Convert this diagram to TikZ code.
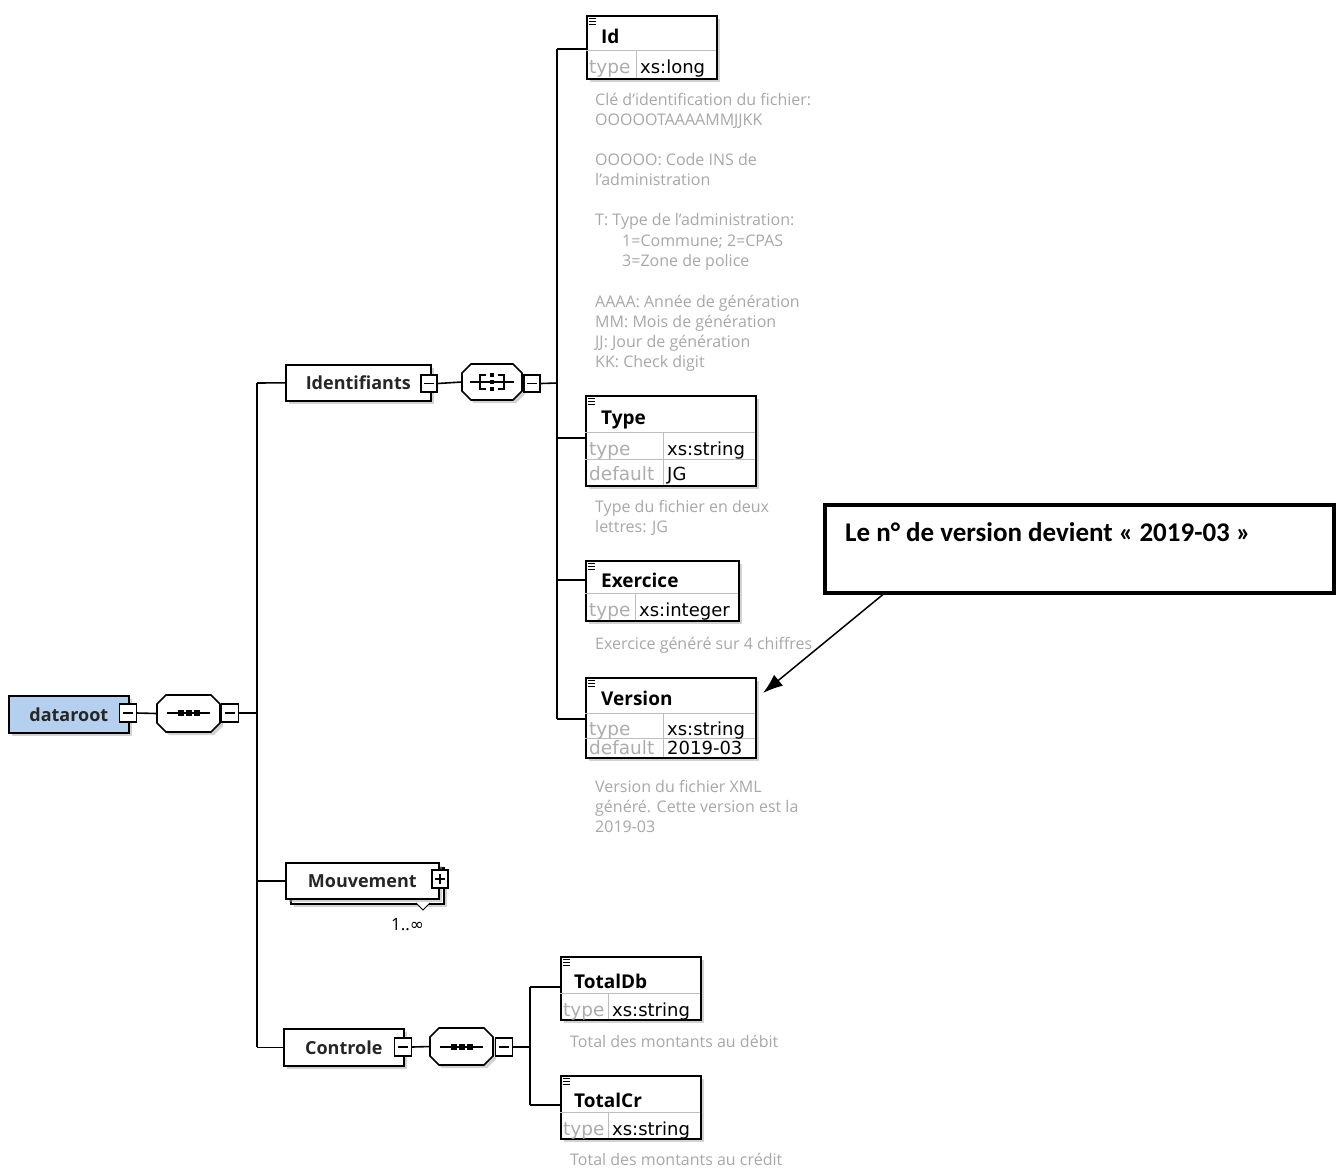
\documentclass[tikz,border=0pt]{standalone}
\usepackage{fontspec}
\setmainfont{Open Sans}
\newfontfamily\calloutfont{Carlito}
\newfontfamily\symfont{DejaVu Sans}
\usetikzlibrary{arrows.meta,shadows}

\definecolor{rootblue}{HTML}{B4D0EE}
\definecolor{attrgray}{HTML}{ADADAD}
\definecolor{descgray}{HTML}{A8A8A8}
\definecolor{gridgray}{HTML}{BDBDBD}

\newcommand{\xoct}[4]{(#1+9,#2) -- (#3-9,#2) -- (#3,#2+9) -- (#3,#4-9) -- (#3-9,#4) -- (#1+9,#4) -- (#1,#4-9) -- (#1,#2+9) -- cycle}

\tikzset{
  conn/.style={line width=1.6pt, draw=black},
  shd/.style={drop shadow={shadow xshift=3pt, shadow yshift=-3pt, fill=black!35, opacity=0.5}},
  topbox/.style={draw=black, line width=1.6pt, fill=white, shd, inner sep=0pt,
                 font=\fontsize{18}{20}\selectfont\bfseries, text=black!85},
  elem/.style={draw=black, line width=1.6pt, fill=white, shd, inner sep=0pt},
  expbox/.style={draw=black, line width=1.3pt, fill=white, inner sep=0pt,
                 minimum width=17pt, minimum height=18pt},
  octline/.style={draw=black, line width=1.6pt, fill=white},
  octshadow/.style={fill=black!35, opacity=0.5},
  anchorbox/.style={inner sep=0pt},
  grid/.style={draw=gridgray, line width=1pt},
  ename/.style={anchor=base west, inner sep=0pt, font=\fontsize{19}{21}\selectfont\bfseries},
  attr/.style={anchor=base west, inner sep=0pt, font=\symfont\fontsize{18.5}{20}\selectfont, text=attrgray},
  val/.style={anchor=base west, inner sep=0pt, font=\symfont\fontsize{18}{20}\selectfont, text=black},
  desc/.style={anchor=base west, inner sep=0pt, font=\fontsize{16}{18}\selectfont, text=descgray},
  icon/.style={draw=black, line width=0.8pt},
}

\begin{document}
\begin{tikzpicture}[x=1pt,y=-1pt]
\useasboundingbox (0,0) rectangle (1340,1171);
\fill[white] (0,0) rectangle (1340,1171);

% ---------------- spine coordinates
\coordinate (sp1top) at (257,383);
\coordinate (sp1mid) at (257,713);
\coordinate (sp1bot) at (257,1047);
\coordinate (sp2top) at (557,49);
\coordinate (sp2mid) at (557,383);
\coordinate (sp2bot) at (557,719);
\coordinate (sp3top) at (530,987);
\coordinate (sp3mid) at (530,1047);
\coordinate (sp3bot) at (530,1105);

% ---------------- spines
\draw[conn] (sp1top) -- (sp1bot);
\draw[conn] (sp2top) -- (sp2bot);
\draw[conn] (sp3top) -- (sp3bot);

% ---------------- dataroot
\node[topbox, fill=rootblue, minimum width=120pt, minimum height=37pt, anchor=north west]
  (dataroot) at (8,695) {dataroot\hspace{10pt}};
\node[expbox] (e1) at (128,713) {};
\draw[line width=1.2pt] ([xshift=-5pt]e1.center) -- ([xshift=5pt]e1.center);
\fill[octshadow, shift={(3,3)}] \xoct{157}{695}{220}{732};
\draw[octline] \xoct{157}{695}{220}{732};
\node[anchorbox, minimum width=63pt, minimum height=37pt] (seq1) at (188.5,713.5) {};
\draw[line width=1.2pt] (167,713) -- (210,713);
\fill (178,710) rectangle (184,716);
\fill (186,710) rectangle (192,716);
\fill (194,710) rectangle (200,716);
\node[expbox] (e2) at (230,713) {};
\draw[line width=1.2pt] ([xshift=-5pt]e2.center) -- ([xshift=5pt]e2.center);
\draw[conn] (e1.east) -- (seq1.west);
\draw[conn] (e2.east) -- (sp1mid);

% ---------------- Identifiants
\node[topbox, minimum width=145pt, minimum height=36pt, anchor=north west]
  (ident) at (285,364) {Identifiants\hspace{10pt}};
\draw[conn] (sp1top) -- (ident.west);
\node[expbox, minimum width=16pt, minimum height=17pt] (e3) at (429,383.5) {};
\draw[line width=1.2pt] ([xshift=-5pt]e3.center) -- ([xshift=5pt]e3.center);
\fill[octshadow, shift={(3,3)}] \xoct{462}{364}{522}{400};
\draw[octline] \xoct{462}{364}{522}{400};
\node[anchorbox, minimum width=60pt, minimum height=36pt] (all1) at (492,382) {};
\draw[line width=1.2pt] (470,382) -- (514,382);
\draw[line width=1.4pt] (486,375) -- (480,375) -- (480,389) -- (486,389);
\draw[line width=1.4pt] (498,375) -- (504,375) -- (504,389) -- (498,389);
\fill (490,373) rectangle (494,377);
\fill (490,380) rectangle (494,384);
\fill (490,387) rectangle (494,391);
\node[expbox, minimum width=16pt, minimum height=17pt] (e4) at (532,383.5) {};
\draw[line width=1.2pt] ([xshift=-5pt]e4.center) -- ([xshift=5pt]e4.center);
\draw[conn] (e3.east) -- (all1.west);
\draw[conn] (e4.east) -- (sp2mid);

% ---------------- Mouvement
\node[draw=black, line width=1.6pt, fill=white, shd, minimum width=153pt, minimum height=36pt,
      anchor=north west, inner sep=0pt] (mouvback) at (290,867) {};
\node[topbox, minimum width=153pt, minimum height=36pt, anchor=north west]
  (mouv) at (285,862) {Mouvement\hspace{12pt}};
\draw[conn] (mouv.west -| sp1top) -- (mouv.west);
\node[expbox, minimum width=16pt, minimum height=18pt] (e5) at (440,879) {};
\draw[line width=1.2pt] ([xshift=-5pt]e5.center) -- ([xshift=5pt]e5.center);
\draw[line width=1.2pt] ([yshift=-5pt]e5.center) -- ([yshift=5pt]e5.center);
\draw[line width=1pt, fill=white] (416,903) -- (423,910) -- (430,903);
\node[anchor=base west, inner sep=0pt, font=\fontsize{17}{19}\selectfont] (mult) at (391,930)
  {1..{\symfont ∞}};

% ---------------- Controle
\node[topbox, minimum width=120pt, minimum height=37pt, anchor=north west]
  (ctrl) at (283,1028) {Controle\hspace{8pt}};
\draw[conn] (ctrl.west -| sp1top) -- (ctrl.west);
\node[expbox] (e6) at (403,1047) {};
\draw[line width=1.2pt] ([xshift=-5pt]e6.center) -- ([xshift=5pt]e6.center);
\fill[octshadow, shift={(3,3)}] \xoct{430}{1028}{493}{1065};
\draw[octline] \xoct{430}{1028}{493}{1065};
\node[anchorbox, minimum width=63pt, minimum height=37pt] (seq2) at (461.5,1046.5) {};
\draw[line width=1.2pt] (440,1047) -- (483,1047);
\fill (451,1044) rectangle (457,1050);
\fill (459,1044) rectangle (465,1050);
\fill (467,1044) rectangle (473,1050);
\node[expbox] (e7) at (504,1047) {};
\draw[line width=1.2pt] ([xshift=-5pt]e7.center) -- ([xshift=5pt]e7.center);
\draw[conn] (e6.east) -- (seq2.west);
\draw[conn] (e7.east) -- (sp3mid);

% ---------------- Id
\node[elem, minimum width=130pt, minimum height=63pt, anchor=north west] (id) at (586,15) {};
\draw[conn] (sp2top) -- (id.west |- sp2top);
\draw[grid] (586,50) -- (716,50);
\draw[grid] (636,50) -- (636,78);
\draw[icon] (589,18) -- (596,18) (589,21) -- (596,21) (589,24) -- (596,24);
\node[ename] at (601,43) {Id};
\node[attr] at (589,73) {type};
\node[val] at (640,73) {xs:long};
\node[desc] at (595,105) {Clé d'identification du fichier:};
\node[desc] at (595,125) {OOOOOTAAAAMMJJKK};
\node[desc] at (595,165) {OOOOO: Code INS de};
\node[desc] at (595,185) {l'administration};
\node[desc] at (595,225) {T: Type de l'administration:};
\node[desc] at (622,246) {1=Commune; 2=CPAS};
\node[desc] at (622,266) {3=Zone de police};
\node[desc] at (595,307) {AAAA: Année de génération};
\node[desc] at (595,327) {MM: Mois de génération};
\node[desc] at (595,347) {JJ: Jour de génération};
\node[desc] at (595,367) {KK: Check digit};

% ---------------- Type
\coordinate (typec) at (585,438);
\node[elem, minimum width=170pt, minimum height=90pt, anchor=north west] (type) at (585,395) {};
\draw[conn] (typec -| sp2top) -- (typec);
\draw[grid] (585,432) -- (755,432);
\draw[grid] (585,459) -- (755,459);
\draw[grid] (663,432) -- (663,485);
\draw[icon] (588,398) -- (595,398) (588,401) -- (595,401) (588,404) -- (595,404);
\node[ename] at (601,424) {Type};
\node[attr] at (589,455) {type};
\node[val] at (667,455) {xs:string};
\node[attr] at (589,480) {default};
\node[val] at (667,480) {JG};
\node[desc] at (595,512) {Type du fichier en deux};
\node[desc] at (595,532) {lettres: JG};

% ---------------- Exercice
\coordinate (exc) at (585,580);
\node[elem, minimum width=153pt, minimum height=60pt, anchor=north west] (exer) at (585,560) {};
\draw[conn] (exc -| sp2top) -- (exc);
\draw[grid] (585,593) -- (738,593);
\draw[grid] (635,593) -- (635,620);
\draw[icon] (588,563) -- (595,563) (588,566) -- (595,566) (588,569) -- (595,569);
\node[ename] at (601,587) {Exercice};
\node[attr] at (589,616) {type};
\node[val] at (639,616) {xs:integer};
\node[desc] at (595,649) {Exercice généré sur 4 chiffres};

% ---------------- Version
\node[elem, minimum width=170pt, minimum height=80pt, anchor=north west] (vers) at (585,677) {};
\draw[conn] (sp2bot) -- (vers.west |- sp2bot);
\draw[grid] (585,713) -- (755,713);
\draw[grid] (585,738) -- (755,738);
\draw[grid] (663,713) -- (663,757);
\draw[icon] (588,680) -- (595,680) (588,683) -- (595,683) (588,686) -- (595,686);
\node[ename] at (601,705) {Version};
\node[attr] at (589,735) {type};
\node[val] at (667,735) {xs:string};
\node[attr] at (589,754) {default};
\node[val] at (667,754) {2019-03};
\node[desc] at (595,792) {Version du fichier XML};
\node[desc] at (595,812) {généré. Cette version est la};
\node[desc] at (595,832) {2019-03};

% ---------------- TotalDb
\node[elem, minimum width=140pt, minimum height=63pt, anchor=north west] (tdb) at (560,956) {};
\draw[conn] (sp3top) -- (tdb.west |- sp3top);
\draw[grid] (560,993) -- (700,993);
\draw[grid] (608,993) -- (608,1019);
\draw[icon] (563,959) -- (570,959) (563,962) -- (570,962) (563,965) -- (570,965);
\node[ename] at (574,988) {TotalDb};
\node[attr] at (563,1016) {type};
\node[val] at (612,1016) {xs:string};
\node[desc] at (570,1047) {Total des montants au débit};

% ---------------- TotalCr
\node[elem, minimum width=140pt, minimum height=63pt, anchor=north west] (tcr) at (560,1075) {};
\draw[conn] (sp3bot) -- (tcr.west |- sp3bot);
\draw[grid] (560,1112) -- (700,1112);
\draw[grid] (608,1112) -- (608,1138);
\draw[icon] (563,1078) -- (570,1078) (563,1081) -- (570,1081) (563,1084) -- (570,1084);
\node[ename] at (574,1107) {TotalCr};
\node[attr] at (563,1135) {type};
\node[val] at (612,1135) {xs:string};
\node[desc] at (570,1165) {Total des montants au crédit};

% ---------------- callout
\node[draw=black, line width=3.5pt, fill=white, minimum width=509pt, minimum height=88pt,
      anchor=north west, inner sep=0pt] (callout) at (823,503) {};
\node[anchor=base west, inner sep=0pt, font=\calloutfont\fontsize{27}{31}\selectfont\bfseries]
  (callouttext) at (845,541) {Le n° de version devient «~2019-03~»};
\coordinate (arrowstart) at (886,592);
\coordinate (arrowend) at (763,693);
\draw[line width=1.5pt, -{Latex[length=20pt,width=14pt]}] (arrowstart) -- (arrowend);
\end{tikzpicture}
\end{document}
